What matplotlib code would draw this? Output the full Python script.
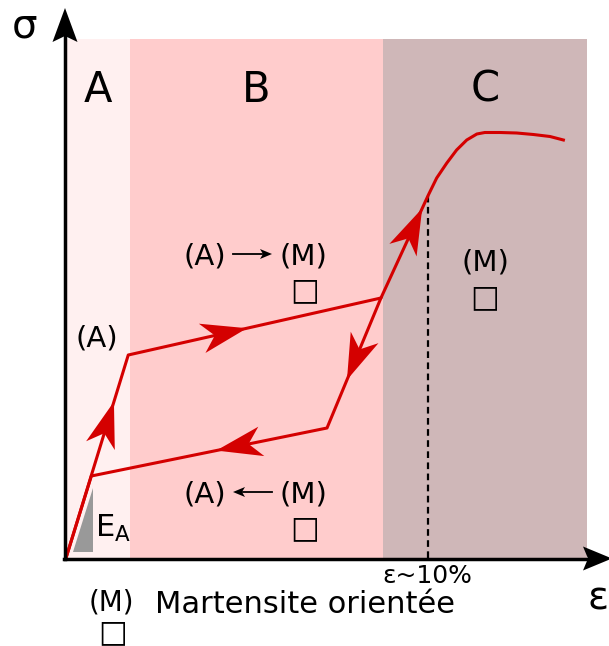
import numpy as np
import matplotlib.pyplot as plt
from matplotlib.patches import Polygon
from matplotlib.transforms import IdentityTransform

plt.rcParams['font.family'] = ['DejaVu Sans']
plt.rcParams['mathtext.fontset'] = 'dejavusans'

# Courbe de charge / décharge (déformation en %, contrainte en MPa, schématique)
eps_load = [0.0, 1.72, 8.70, 10.01, 10.24, 10.52, 10.79, 11.07, 11.35, 11.57, 11.99, 12.45, 12.91, 13.37, 13.74]
sig_load = [0, 406, 520, 726, 760, 790, 816, 836, 848, 851, 851, 850, 847, 843, 836]
eps_unload = [8.70, 7.21, 0.70, 0.0]
sig_unload = [520, 260, 164, 0]

# Zones A (austénite), B (transformation), C (martensite)
zone_names = ['A', 'B', 'C']
zone_edges = [0.0, 1.77, 8.76, 14.38]
zone_top = 1038
zone_colors = ['#fff0f0', '#ffcccc', '#cfb7b8']

eps_limit = 10.0          # ε~10%
# flèches sur la courbe : (courbe, segment, fraction du segment)
arrows = [('load', 0, 0.77), ('load', 1, 0.47), ('load', 2, 0.87),
          ('unload', 0, 0.63), ('unload', 1, 0.47)]

RED = '#d40000'
W, H = 609, 646
# origine du schéma à (66, 558) px, 36.2 px par %, 0.5 px par MPa
X0, Y0, SX, SY = 66, 558, 36.2, 0.5


def px(x, y):
    """Pixel (depuis le coin haut gauche) -> coordonnées (eps, sigma)."""
    return (x - X0) / SX, (Y0 - y) / SY


fig = plt.figure(figsize=(W / 100, H / 100), dpi=100)
ax = fig.add_axes([0, 0, 1, 1])
ax.set_xlim(px(0, 0)[0], px(W, 0)[0])
ax.set_ylim(px(0, H)[1], px(0, 0)[1])
ax.axis('off')


def head(tip, direction, length, half, notch, color, z=6):
    """Pointe de flèche (coordonnées écran)."""
    d = np.asarray(direction, float)
    d /= np.hypot(*d)
    n = np.array([-d[1], d[0]])
    tip = np.asarray(tip, float)
    base = tip - d * length
    pts = [tip, base + n * half, tip - d * (length - notch), base - n * half]
    ax.add_patch(Polygon(pts, closed=True, transform=IdentityTransform(),
                         fc=color, ec='none', zorder=z))


def head_px(x, y, dx, dy, length, half, notch, color='black'):
    head((x, H - y), (dx, -dy), length, half, notch, color)


# zones colorées
ax.bar(zone_edges[:-1], zone_top, width=np.diff(zone_edges), align='edge',
       color=zone_colors, linewidth=0, zorder=0)
for name, a, b in zip(zone_names, zone_edges[:-1], zone_edges[1:]):
    ax.text((a + b) / 2, px(0, 102)[1], name, fontsize=30, ha='center', va='baseline')

# courbes
ax.plot(eps_load, sig_load, color=RED, lw=2.2, zorder=4)
ax.plot(eps_unload, sig_unload, color=RED, lw=2.2, zorder=4)
ax.plot([eps_limit, eps_limit], [0, sig_load[3]], color='black', lw=1.6,
        dashes=(3, 2), zorder=3)

curves = {'load': (eps_load, sig_load), 'unload': (eps_unload, sig_unload)}
for key, i, f in arrows:
    e, s = curves[key]
    p0 = ax.transData.transform((e[i], s[i]))
    p1 = ax.transData.transform((e[i + 1], s[i + 1]))
    head(p0 + f * (p1 - p0), p1 - p0, 46, 15, 13, RED)

# axes avec flèches
ax.plot(*zip(px(65, 558.5), px(65, 35)), color='black', lw=2.5, zorder=5)
ax.plot(*zip(px(64, 558.5), px(592, 558.5)), color='black', lw=2.5, zorder=5)
head_px(65, 8, 0, -1, 34, 12.5, 6)
head_px(612, 558.5, 1, 0, 29, 12, 5)
ax.text(*px(25, 37), 'σ', fontsize=29, ha='center', va='baseline')
ax.text(*px(587, 610), 'ε', fontsize=28, ha='left', va='baseline')
ax.text(*px(427.5, 583), 'ε~10%', fontsize=18, ha='center', va='baseline')

# module d'Young E_A
ax.add_patch(Polygon([px(73, 552), px(93, 552), px(93, 488)], closed=True,
                     fc='#999999', ec='none', zorder=3))
ax.text(*px(95, 537), r'E$_\mathregular{A}$', fontsize=22, ha='left', va='baseline')

# phases
ax.text(*px(97, 347), '(A)', fontsize=21, ha='center', va='baseline')
for yb, ysq, sens in [(265, 291, 1), (503, 529, -1)]:
    ax.text(*px(205, yb), '(A)', fontsize=21, ha='center', va='baseline')
    ax.text(*px(303.5, yb), '(M)', fontsize=21, ha='center', va='baseline')
    ya = yb - 11
    if sens > 0:
        ax.plot(*zip(px(233, ya), px(262, ya)), color='black', lw=1.3)
        head_px(272, ya, 1, 0, 12, 5, 3)
    else:
        ax.plot(*zip(px(243, ya), px(272, ya)), color='black', lw=1.3)
        head_px(233, ya, -1, 0, 12, 5, 3)
    ax.text(*px(305, ysq), '□', fontsize=22, ha='center', va='center')
ax.text(*px(485, 270), '(M)', fontsize=21, ha='center', va='baseline')
ax.text(*px(484.5, 297.5), '□', fontsize=22, ha='center', va='center')

# légende
ax.text(*px(111, 611), '(M)', fontsize=20, ha='center', va='baseline')
ax.text(*px(112.5, 633), '□', fontsize=22, ha='center', va='center')
ax.text(*px(155, 613), 'Martensite orientée', fontsize=22, ha='left', va='baseline')

fig.savefig('out.png', dpi=100)
